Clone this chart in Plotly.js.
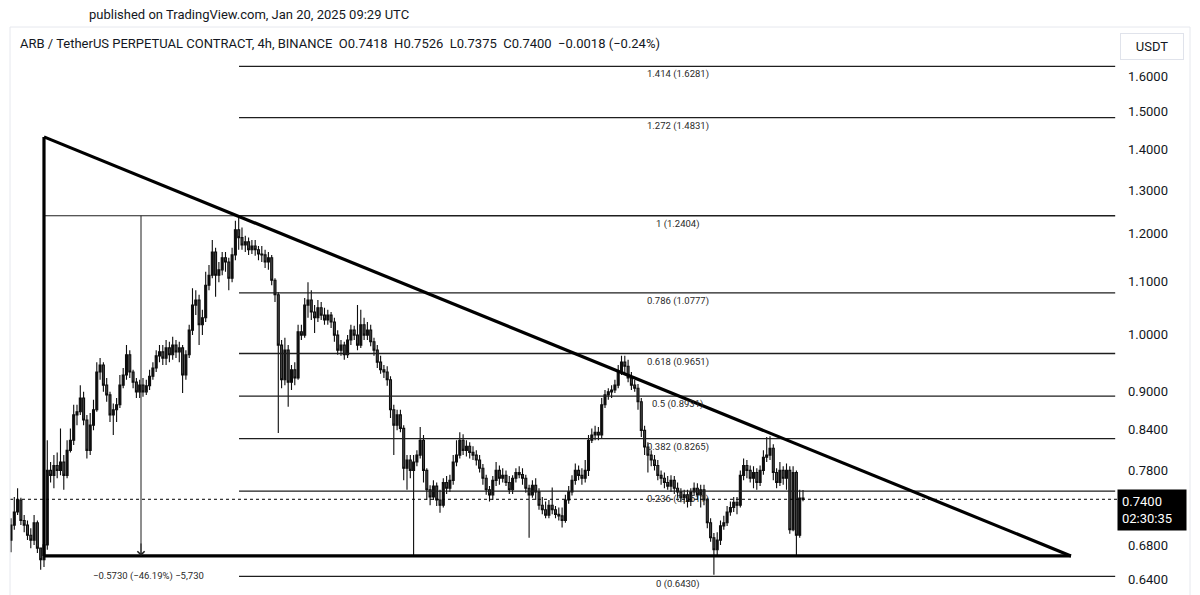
<!DOCTYPE html>
<html>
<head>
<meta charset="utf-8">
<script src="https://cdn.plot.ly/plotly-3.0.1.min.js"></script>
<style>
html,body{margin:0;padding:0;background:#fff;}
#chart{width:1200px;height:595px;}
</style>
</head>
<body>
<div id="chart"></div>
<script>
// ---- DATA (4h candles, ARB/USDT perpetual) ----
const openPrices = [
0.687,0.706,0.723,0.739,0.712,0.706,0.693,0.687,0.709,0.677,
0.663,0.681,0.780,0.773,0.787,0.780,0.792,0.773,0.809,0.824,
0.863,0.868,0.890,0.855,0.809,0.847,0.871,0.933,0.945,0.911,
0.895,0.863,0.871,0.879,0.911,0.928,0.963,0.933,0.916,0.900,
0.911,0.900,0.910,0.926,0.940,0.961,0.968,0.957,0.975,0.963,
0.980,0.968,0.975,0.928,0.963,1.007,1.054,1.064,1.017,1.030,
1.093,1.113,1.161,1.113,1.124,1.149,1.140,1.107,1.155,1.209,
1.192,1.176,1.183,1.166,1.174,1.166,1.157,1.155,1.140,1.149,
1.103,1.074,0.980,0.920,0.971,0.916,0.937,0.923,1.004,0.998,
1.054,1.064,1.041,1.030,1.049,1.035,1.026,1.035,1.022,0.998,
0.971,0.980,0.963,0.989,1.007,0.998,0.980,1.017,0.998,1.007,
0.986,0.971,0.950,0.937,0.933,0.920,0.871,0.847,0.863,0.842,
0.783,0.795,0.780,0.792,0.802,0.824,0.780,0.753,0.743,0.758,
0.739,0.732,0.763,0.755,0.766,0.792,0.802,0.824,0.809,0.815,
0.806,0.802,0.795,0.783,0.769,0.753,0.746,0.766,0.780,0.769,
0.773,0.763,0.753,0.769,0.777,0.774,0.769,0.755,0.746,0.759,
0.750,0.732,0.726,0.719,0.732,0.726,0.720,0.718,0.712,0.739,
0.750,0.766,0.780,0.773,0.769,0.780,0.824,0.832,0.836,0.832,
0.879,0.895,0.900,0.903,0.911,0.933,0.950,0.943,0.923,0.911,
0.906,0.884,0.839,0.814,0.802,0.795,0.787,0.773,0.769,0.763,
0.758,0.766,0.755,0.750,0.742,0.746,0.737,0.750,0.755,0.746,
0.753,0.739,0.709,0.690,0.675,0.687,0.705,0.709,0.723,0.729,
0.736,0.732,0.773,0.787,0.780,0.769,0.777,0.763,0.780,0.799,
0.802,0.812,0.777,0.763,0.780,0.769,0.780,0.700,0.777,0.693,
0.7418];
const highPrices = [
0.715,0.743,0.755,0.742,0.719,0.712,0.702,0.719,0.712,0.677,
0.687,0.824,0.792,0.802,0.806,0.842,0.802,0.824,0.842,0.879,
0.879,0.911,0.900,0.863,0.866,0.887,0.950,0.957,0.950,0.923,
0.900,0.881,0.890,0.928,0.940,0.980,0.971,0.937,0.923,0.920,
0.923,0.920,0.937,0.950,0.971,0.980,0.980,0.989,0.986,0.995,
0.989,0.986,0.980,0.971,1.017,1.087,1.083,1.074,1.045,1.120,
1.134,1.187,1.170,1.140,1.161,1.161,1.149,1.170,1.229,1.240,
1.214,1.196,1.192,1.187,1.187,1.174,1.174,1.166,1.161,1.155,
1.107,1.079,0.989,0.993,0.980,0.945,0.950,1.017,1.017,1.068,
1.099,1.083,1.054,1.064,1.060,1.049,1.045,1.041,1.030,1.007,
0.989,0.986,0.998,1.017,1.015,1.054,1.045,1.030,1.022,1.017,
0.993,0.980,0.961,0.945,0.943,0.926,0.879,0.871,0.871,0.847,
0.802,0.802,0.802,0.809,0.844,0.832,0.783,0.759,0.766,0.763,
0.753,0.769,0.772,0.774,0.802,0.824,0.836,0.833,0.824,0.821,
0.815,0.809,0.802,0.789,0.774,0.758,0.772,0.792,0.787,0.783,
0.780,0.772,0.773,0.783,0.786,0.783,0.774,0.760,0.766,0.769,
0.755,0.743,0.737,0.739,0.756,0.731,0.729,0.729,0.746,0.758,
0.773,0.790,0.787,0.783,0.795,0.832,0.842,0.846,0.844,0.890,
0.903,0.906,0.911,0.920,0.945,0.961,0.961,0.954,0.933,0.920,
0.913,0.890,0.846,0.821,0.809,0.802,0.795,0.780,0.777,0.772,
0.773,0.772,0.763,0.755,0.753,0.753,0.755,0.763,0.762,0.760,
0.760,0.742,0.715,0.696,0.697,0.712,0.718,0.731,0.737,0.743,
0.743,0.780,0.797,0.795,0.787,0.786,0.783,0.787,0.809,0.829,
0.830,0.818,0.783,0.792,0.786,0.790,0.786,0.786,0.780,0.753,
0.7526];
const lowPrices = [
0.672,0.700,0.719,0.706,0.697,0.687,0.677,0.681,0.671,0.651,
0.654,0.675,0.763,0.755,0.769,0.773,0.753,0.769,0.806,0.817,
0.847,0.863,0.847,0.797,0.802,0.839,0.868,0.920,0.900,0.884,
0.852,0.832,0.852,0.874,0.906,0.920,0.923,0.906,0.890,0.890,
0.892,0.895,0.903,0.920,0.933,0.950,0.945,0.945,0.950,0.954,
0.957,0.950,0.898,0.920,0.957,0.998,1.035,0.980,0.998,1.022,
1.083,1.107,1.070,1.099,1.113,1.120,1.083,1.099,1.144,1.166,
1.166,1.161,1.155,1.157,1.153,1.144,1.140,1.128,1.124,1.093,
1.060,0.835,0.906,0.911,0.876,0.903,0.911,0.920,0.989,0.993,
1.030,1.026,1.002,1.022,1.026,1.017,1.017,1.011,0.986,0.963,
0.961,0.954,0.957,0.980,0.989,0.971,0.975,0.989,0.989,0.978,
0.961,0.940,0.930,0.923,0.910,0.858,0.802,0.839,0.836,0.766,
0.753,0.769,0.668,0.786,0.797,0.763,0.739,0.732,0.739,0.731,
0.722,0.729,0.747,0.750,0.760,0.786,0.797,0.802,0.800,0.797,
0.795,0.787,0.777,0.760,0.746,0.737,0.739,0.758,0.760,0.763,
0.758,0.747,0.747,0.763,0.769,0.760,0.749,0.690,0.742,0.739,
0.726,0.720,0.715,0.715,0.720,0.715,0.712,0.703,0.709,0.734,
0.745,0.760,0.766,0.760,0.763,0.772,0.820,0.824,0.824,0.827,
0.874,0.887,0.890,0.898,0.906,0.928,0.931,0.916,0.903,0.900,
0.871,0.829,0.802,0.777,0.786,0.780,0.766,0.760,0.755,0.753,
0.750,0.747,0.742,0.736,0.734,0.729,0.731,0.745,0.739,0.729,
0.732,0.702,0.685,0.645,0.668,0.681,0.700,0.705,0.718,0.723,
0.720,0.729,0.766,0.769,0.763,0.755,0.753,0.758,0.774,0.792,
0.795,0.766,0.755,0.758,0.760,0.753,0.695,0.698,0.667,0.690,
0.7375];
const closePrices = [
0.706,0.723,0.739,0.712,0.706,0.693,0.687,0.709,0.677,0.663,
0.681,0.780,0.773,0.787,0.780,0.792,0.773,0.809,0.824,0.863,
0.868,0.890,0.855,0.809,0.847,0.871,0.933,0.945,0.911,0.895,
0.863,0.871,0.879,0.911,0.928,0.963,0.933,0.916,0.900,0.911,
0.900,0.910,0.926,0.940,0.961,0.968,0.957,0.975,0.963,0.980,
0.968,0.975,0.928,0.963,1.007,1.054,1.064,1.017,1.030,1.093,
1.113,1.161,1.113,1.124,1.149,1.140,1.107,1.155,1.209,1.192,
1.176,1.183,1.166,1.174,1.166,1.157,1.155,1.140,1.149,1.103,
1.074,0.980,0.920,0.971,0.916,0.937,0.923,1.004,0.998,1.054,
1.064,1.041,1.030,1.049,1.035,1.026,1.035,1.022,0.998,0.971,
0.980,0.963,0.989,1.007,0.998,0.980,1.017,0.998,1.007,0.986,
0.971,0.950,0.937,0.933,0.920,0.871,0.847,0.863,0.842,0.783,
0.795,0.780,0.792,0.802,0.824,0.780,0.753,0.743,0.758,0.739,
0.732,0.763,0.755,0.766,0.792,0.802,0.824,0.809,0.815,0.806,
0.802,0.795,0.783,0.769,0.753,0.746,0.766,0.780,0.769,0.773,
0.763,0.753,0.769,0.777,0.774,0.769,0.755,0.746,0.759,0.750,
0.732,0.726,0.719,0.732,0.726,0.720,0.718,0.712,0.739,0.750,
0.766,0.780,0.773,0.769,0.780,0.824,0.832,0.836,0.832,0.879,
0.895,0.900,0.903,0.911,0.933,0.950,0.943,0.923,0.911,0.906,
0.884,0.839,0.814,0.802,0.795,0.787,0.773,0.769,0.763,0.758,
0.766,0.755,0.750,0.742,0.746,0.737,0.750,0.755,0.746,0.753,
0.739,0.709,0.690,0.675,0.687,0.705,0.709,0.723,0.729,0.736,
0.732,0.773,0.787,0.780,0.769,0.777,0.763,0.780,0.799,0.802,
0.812,0.777,0.763,0.780,0.769,0.780,0.700,0.777,0.693,0.7418,
0.7400];
const barIndex = openPrices.map((_, i) => i);

// Fibonacci retracement (log) levels
const fibRatios = ['1.414', '1.272', '1', '0.786', '0.618', '0.5', '0.382', '0.236', '0'];
const fibPrices = [1.6281, 1.4831, 1.2404, 1.0777, 0.9651, 0.8931, 0.8265, 0.7511, 0.6430];

// Triangle drawing & measure tool
const triangleTopPrice = 1.432;
const triangleBasePrice = 0.6674;
const measureFromPrice = 1.2404;
const measureToPrice = 0.6674;
const measureLabel = '\u22120.5730 (\u221246.19%) \u22125,730';

// Price scale
const tickValues = [0.64, 0.68, 0.78, 0.84, 0.90, 1.00, 1.10, 1.20, 1.30, 1.40, 1.50, 1.60];
const tickLabels = tickValues.map(v => v.toFixed(4));
const lastPrice = 0.7400;
const countdown = '02:30:35';

const headerPublished = 'published on TradingView.com, Jan 20, 2025 09:29 UTC';
const headerSymbol = 'ARB / TetherUS PERPETUAL CONTRACT, 4h, BINANCE&nbsp;&nbsp;O0.7418&nbsp;&nbsp;H0.7526&nbsp;&nbsp;L0.7375&nbsp;&nbsp;C0.7400&nbsp;&nbsp;\u22120.0018 (\u22120.24%)';

// ---- LAYOUT POSITIONS (bar-index anchors of drawings) ----
const xRange = [-0.3, 335.15];
const triangleLeftBar = 10;
const triangleRightBar = 321.2;
const measureBar = 39.4;
const fibStartBar = 69.1;
const fibEndBar = 334.6;
const fibLabelBar = 202;

const FONT = 'Roboto, "Liberation Sans", Arial, sans-serif';
const L = 10, R = 83, T = 30, B = 0, W = 1200, H = 595;
const px2paperX = px => (px - L) / (W - L - R);
const py2paperY = py => (H - B - py) / (H - T - B);

const shapes = [];
fibPrices.forEach(p => {
  shapes.push({type:'line', xref:'x', yref:'y', x0:fibStartBar, x1:fibEndBar, y0:p, y1:p,
    line:{color:'#1e1e1e', width:1.3}});
});
shapes.push({type:'line', xref:'paper', yref:'y', x0:0, x1:1, y0:lastPrice, y1:lastPrice,
  line:{color:'#000', width:1, dash:'dot'}});
shapes.push({type:'line', xref:'x', yref:'y', x0:triangleLeftBar, x1:fibStartBar, y0:measureFromPrice, y1:measureFromPrice,
  line:{color:'#1e1e1e', width:1.2}});
shapes.push({type:'line', xref:'x', yref:'y', x0:measureBar, x1:measureBar, y0:measureFromPrice, y1:measureToPrice,
  line:{color:'#1e1e1e', width:1}});
shapes.push({type:'line', xref:'x', yref:'y', x0:triangleLeftBar, x1:triangleLeftBar, y0:triangleBasePrice, y1:triangleTopPrice,
  line:{color:'#000', width:3.2}});
shapes.push({type:'line', xref:'x', yref:'y', x0:triangleLeftBar, x1:triangleRightBar, y0:triangleTopPrice, y1:triangleBasePrice,
  line:{color:'#000', width:3.2}});
shapes.push({type:'line', xref:'x', yref:'y', x0:triangleLeftBar, x1:triangleRightBar, y0:triangleBasePrice, y1:triangleBasePrice,
  line:{color:'#000', width:3.2}});
shapes.push({type:'line', xref:'paper', yref:'paper', x0:0, x1:px2paperX(1190), y0:py2paperY(27), y1:py2paperY(27),
  line:{color:'#e6e8ee', width:1}});
shapes.push({type:'line', xref:'paper', yref:'paper', x0:0, x1:0, y0:0, y1:py2paperY(27),
  line:{color:'#e6e8ee', width:1}});
shapes.push({type:'line', xref:'paper', yref:'paper', x0:px2paperX(1190), x1:px2paperX(1190), y0:0, y1:py2paperY(27),
  line:{color:'#e6e8ee', width:1}});

const annotations = [];
fibRatios.forEach((r, i) => {
  annotations.push({xref:'x', yref:'y', x:fibLabelBar, y:Math.log10(fibPrices[i]), yshift:-8,
    text:r + ' (' + fibPrices[i].toFixed(4) + ')', showarrow:false,
    font:{family:FONT, size:9.5, color:'#2a2a2a'}});
});
annotations.push({xref:'x', yref:'y', x:measureBar, y:Math.log10(measureToPrice), ax:0, ay:-14,
  text:'', showarrow:true, arrowhead:4, arrowsize:1.4, arrowwidth:1, arrowcolor:'#1e1e1e', standoff:0});
annotations.push({xref:'x', yref:'y', x:measureBar, y:Math.log10(measureToPrice), xshift:7, yshift:-20,
  text:measureLabel, showarrow:false, font:{family:FONT, size:9.5, color:'#2a2a2a'}});
annotations.push({xref:'paper', yref:'paper', x:px2paperX(87), y:py2paperY(15), xanchor:'left', yanchor:'middle',
  text:headerPublished, showarrow:false, font:{family:FONT, size:13, color:'#131722'}});
annotations.push({xref:'paper', yref:'paper', x:px2paperX(18), y:py2paperY(43), xanchor:'left', yanchor:'middle',
  text:headerSymbol, showarrow:false, font:{family:FONT, size:13, color:'#131722'}});
annotations.push({xref:'paper', yref:'paper', x:px2paperX(1152), y:py2paperY(46), xanchor:'center', yanchor:'middle',
  text:'USDT', showarrow:false, font:{family:FONT, size:13, color:'#131722'},
  bordercolor:'#e0e3eb', borderwidth:1, borderpad:5, width:52, bgcolor:'#fff'});
annotations.push({xref:'paper', yref:'y', x:1.0, y:Math.log10(lastPrice), xanchor:'left', yanchor:'top', yshift:10,
  text:lastPrice.toFixed(4) + '<br>' + countdown, align:'left', showarrow:false,
  font:{family:FONT, size:13, color:'#fff'}, bgcolor:'#000', borderpad:4, width:60});

const trace = {
  type:'candlestick', x:barIndex, open:openPrices, high:highPrices, low:lowPrices, close:closePrices,
  increasing:{line:{color:'#0d0d0d', width:1.1}, fillcolor:'#0d0d0d'},
  decreasing:{line:{color:'#0d0d0d', width:1.1}, fillcolor:'#4a4a4a'},
  whiskerwidth:0, hoverinfo:'skip', showlegend:false
};

const layout = {
  width:W, height:H,
  margin:{l:L, r:R, t:T, b:B, pad:0},
  paper_bgcolor:'#fff', plot_bgcolor:'#fff',
  showlegend:false, hovermode:false, boxgap:0.15,
  font:{family:FONT, color:'#131722'},
  xaxis:{range:xRange, visible:false, rangeslider:{visible:false}, fixedrange:true},
  yaxis:{type:'log', range:[Math.log10(0.6216), Math.log10(1.7398)], side:'right',
    tickvals:tickValues, ticktext:tickLabels, ticks:'', showgrid:false, zeroline:false, showline:false,
    ticklabelstandoff:10, tickfont:{family:FONT, size:13, color:'#131722'}, fixedrange:true},
  shapes:shapes, annotations:annotations
};

Plotly.newPlot('chart', [trace], layout, {staticPlot:true, displayModeBar:false});
</script>
</body>
</html>
